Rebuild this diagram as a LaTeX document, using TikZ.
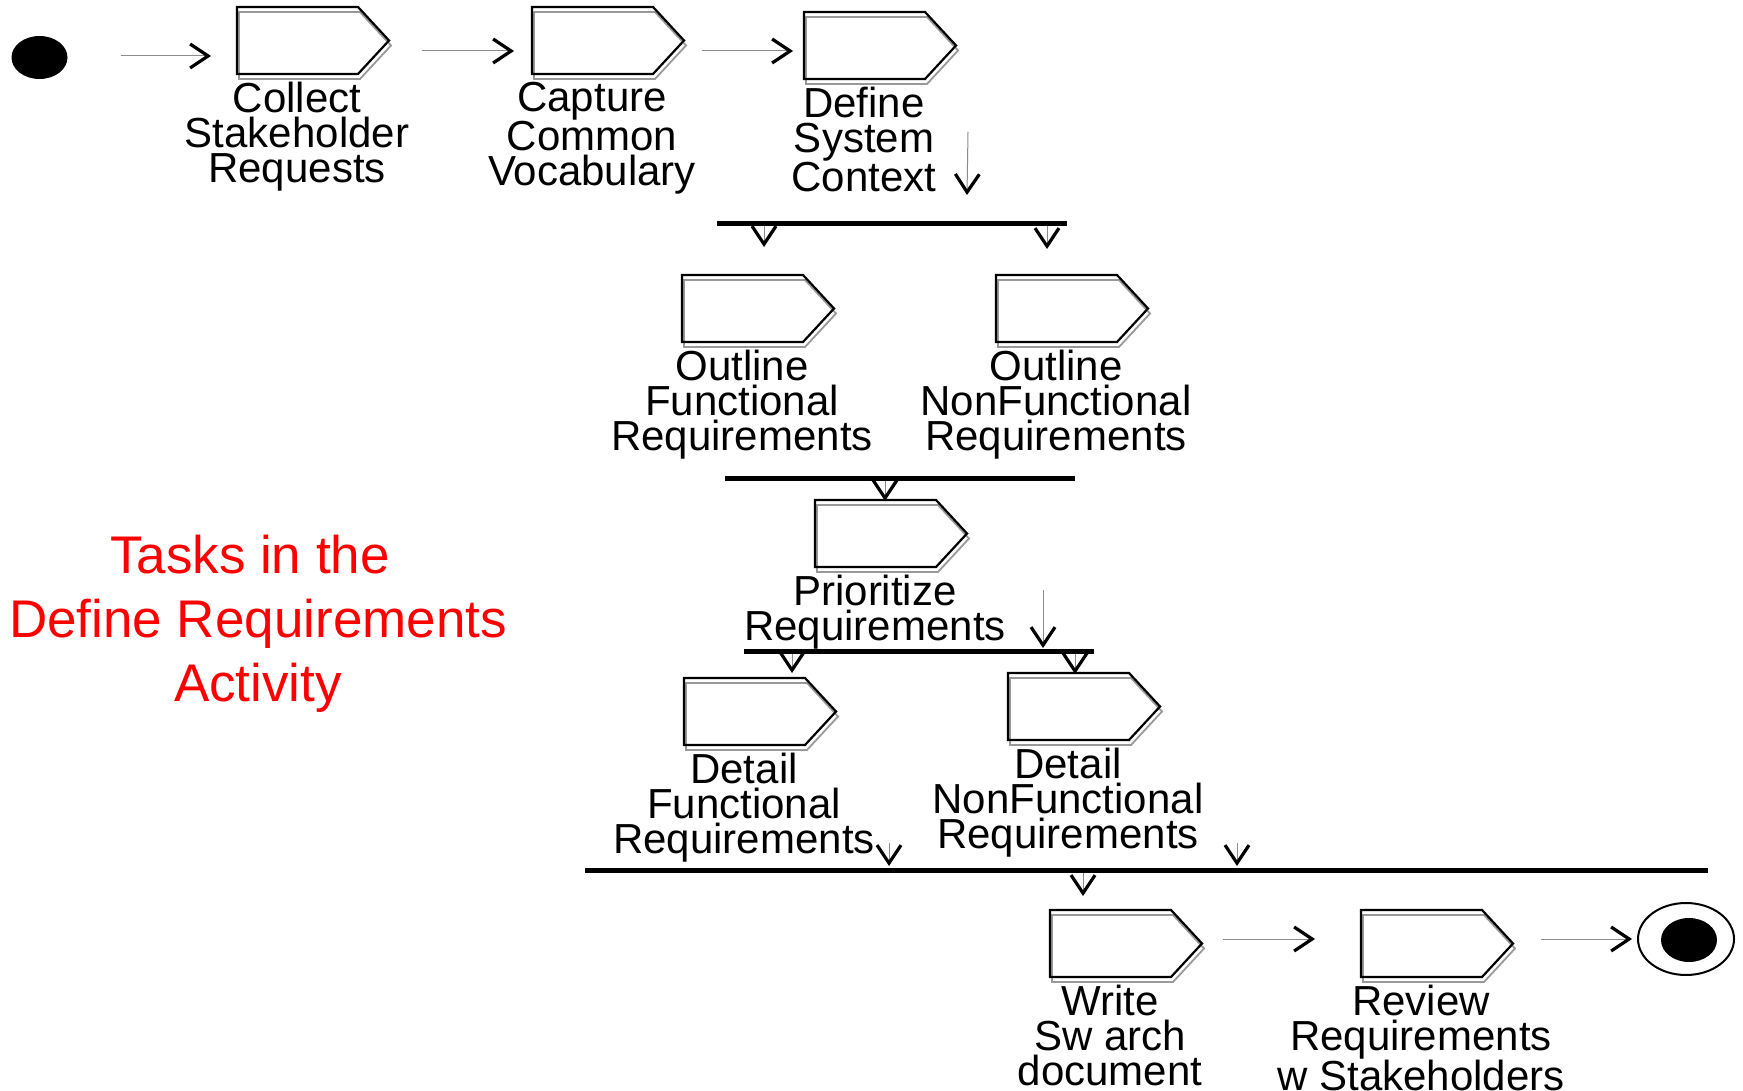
\documentclass[tikz,border=0pt]{standalone}
\usepackage{fontspec}
\setmainfont{Liberation Sans}
\usetikzlibrary{arrows.meta,calc,shapes.geometric}

% outline of an activity box: black pentagon with a grey offset shadow line
\newcommand\taskoutline[1]{%
  \draw[taskshadow] ($(#1.north west)+(2,5)$) -- ++(121,0) -- ++(31,33.5) -- ++(-31,33.5) -- ++(-121,0) -- cycle;
  \draw[taskline] (#1.north west) -- ($(#1.north east)+(-31,0)$) -- (#1.east) -- ($(#1.south east)+(-31,0)$) -- (#1.south west) -- cycle;
}
% activity: name, top-left corner, caption
\newcommand\acttask[3]{%
  \node[taskbox] (#1) at (#2) {};
  \taskoutline{#1}
  \node[tasklabel] (#1-text) at ($(#1.south west)+(60,8)$) {#3};
}

\begin{document}
\begin{tikzpicture}[x=1pt,y=-1pt,
  taskbox/.style={rectangle, anchor=north west, minimum width=152pt, minimum height=67pt, inner sep=0pt, outer sep=0pt},
  taskshadow/.style={draw=black!40, line width=1.8pt, line join=miter},
  taskline/.style={draw=black, line width=2.2pt, line join=miter},
  tasklabel/.style={anchor=north, align=center, inner sep=0pt, font=\fontsize{42}{35}\selectfont},
  titletext/.style={anchor=north, align=center, inner sep=0pt, text=red, font=\fontsize{53}{64}\selectfont},
  forkbar/.style={rectangle, fill=black, minimum height=5pt, inner sep=0pt, outer sep=0pt},
  flow/.style={draw=black!45, line width=1pt, -{Straight Barb[length=18pt,width=24pt,line width=3.2pt,color=black]}},
  dot/.style={ellipse, fill=black, inner sep=0pt}
]
\fill[white] (0,0) rectangle (1743,1091);
\useasboundingbox (0,0) rectangle (1743,1091);

% start and end states
\node[dot, minimum width=56pt, minimum height=43pt] (start) at (39.5,57.5) {};
\node[ellipse, draw=black, line width=2pt, minimum width=96pt, minimum height=72pt, inner sep=0pt] (finish) at (1686,939) {};
\node[dot, minimum width=56pt, minimum height=44pt] (finishcore) at (1689,940) {};

% activities
\acttask{collect}{237,7}{Collect\\Stakeholder\\Requests}
\acttask{capture}{532,7}{Capture\\Common\\Vocabulary}
\acttask{define}{804,12}{Define\\System\\Context}
\acttask{ofr}{682,275}{Outline\\Functional\\Requirements}
\acttask{onfr}{996,275}{Outline\\NonFunctional\\Requirements}
\acttask{prior}{815,500}{Prioritize\\Requirements}
\acttask{dfr}{684,678}{Detail\\Functional\\Requirements}
\acttask{dnfr}{1008,673}{Detail\\NonFunctional\\Requirements}
\acttask{write}{1050,910}{Write\\Sw arch\\document}
\acttask{review}{1361,910}{Review\\Requirements\\w Stakeholders}

% fork and join bars
\node[forkbar, minimum width=350pt] (fork1) at (892,224) {};
\node[forkbar, minimum width=350pt] (fork2) at (900,478) {};
\node[forkbar, minimum width=350pt] (fork3) at (919,651) {};
\node[forkbar, minimum width=1123pt] (fork4) at (1146.5,870) {};

% title
\node[titletext] (title) at (258,535) {Tasks in the\hspace*{16pt}\\Define Requirements\\Activity};

% transitions
\draw[flow] ($(start.east)+(53,-1.5)$) -- ($(collect.north west)+(-26,49)$);
\draw[flow] ($(collect.north east)+(33,44)$) -- ($(capture.north west)+(-18,44)$);
\draw[flow] ($(capture.north east)+(18,44)$) -- ($(define.north west)+(-11,39)$);
\draw[flow] ($(define.north east)+(12,120)$) -- ($(fork1.north)+(75,-26.5)$);
\draw[flow] ($(fork1.south)+(-128,0)$) -- ($(ofr.north west)+(82,-28)$);
\draw[flow] ($(fork1.south)+(155,0)$) -- ($(onfr.north west)+(51,-26)$);
\draw[flow] ($(fork2.south)+(-15,0)$) -- ($(prior.north west)+(70,1)$);
\draw[flow] ($(prior.north west)+(228,90)$) -- ($(fork3.north)+(124,-0.5)$);
\draw[flow] ($(fork3.south)+(-127,0)$) -- ($(dfr.north west)+(108,-5)$);
\draw[flow] ($(fork3.south)+(156,0)$) -- ($(dnfr.north west)+(67,1)$);
\draw[flow] ($(dfr.north west)+(205,165)$) -- ($(fork4.north)+(-257.5,-1.5)$);
\draw[flow] ($(dnfr.north west)+(229,170)$) -- ($(fork4.north)+(90.5,-1.5)$);
\draw[flow] ($(fork4.south)+(-63.5,0)$) -- ($(write.north west)+(33,-14)$);
\draw[flow] ($(write.north east)+(21,29)$) -- ($(review.north west)+(-46,29)$);
\draw[flow] ($(review.north east)+(28,29)$) -- ($(finish.west)+(-5,0)$);
\end{tikzpicture}
\end{document}
